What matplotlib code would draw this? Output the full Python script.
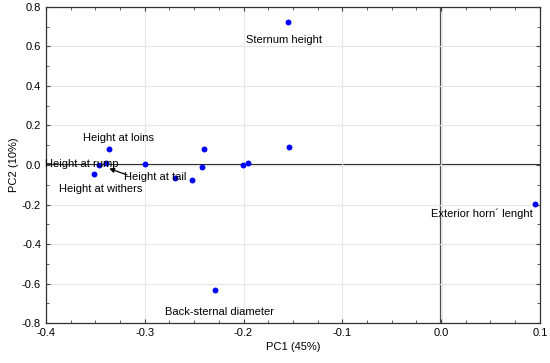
import matplotlib
matplotlib.use('Agg')
import matplotlib.pyplot as plt
from matplotlib.ticker import MultipleLocator

plt.rcParams['font.family'] = ['Liberation Sans', 'DejaVu Sans']

# PCA loadings
pc1 = [-0.155, -0.154, 0.095, -0.229, -0.336, -0.351, -0.346, -0.339,
       -0.300, -0.269, -0.252, -0.242, -0.240, -0.201, -0.195]
pc2 = [0.722, 0.093, -0.199, -0.634, 0.079, -0.047, 0.0, 0.009,
       0.005, -0.064, -0.078, -0.009, 0.081, 0.0, 0.009]

# label text, anchor point (x, y), horizontal alignment
labels = ['Sternum height', 'Exterior horn\u00b4 lenght', 'Back-sternal diameter',
          'Height at loins', 'Height at rump', 'Height at withers']
label_x = [-0.159, 0.093, -0.224, -0.327, -0.401, -0.345]
label_y = [0.635, -0.245, -0.743, 0.137, 0.005, -0.123]
label_ha = ['center', 'right', 'center', 'center', 'left', 'center']

fig = plt.figure(figsize=(5.5, 3.63), dpi=100)
ax = fig.add_axes([0.0836, 0.110, 0.898, 0.871])

ax.grid(True, color='#e6e6e6', linewidth=0.8, zorder=0)
ax.axhline(0, color='#222222', linewidth=1.5, zorder=1)
ax.axvline(0, color='#444444', linewidth=1.6, zorder=1)

ax.scatter(pc1, pc2, s=18, color='#0000ff', zorder=3, linewidths=0)

for txt, lx, ly, ha in zip(labels, label_x, label_y, label_ha):
    ax.text(lx, ly, txt, ha=ha, va='center', fontsize=8, zorder=4)

ax.text(-0.321, -0.059, 'Height at tail', fontsize=8, va='center', ha='left',
        zorder=4)
ax.annotate('', xy=(-0.336, -0.018), xytext=(-0.318, -0.050),
            arrowprops=dict(arrowstyle='-|>', color='black', lw=0.9,
                            mutation_scale=7, shrinkA=0, shrinkB=0),
            zorder=4)

ax.set_xlim(-0.4, 0.1)
ax.set_ylim(-0.8, 0.8)
ax.xaxis.set_major_locator(MultipleLocator(0.1))
ax.xaxis.set_minor_locator(MultipleLocator(0.025))
ax.yaxis.set_major_locator(MultipleLocator(0.2))
ax.yaxis.set_minor_locator(MultipleLocator(0.1))
ax.xaxis.set_major_formatter(plt.FuncFormatter(lambda v, p: '%.1f' % v))
ax.yaxis.set_major_formatter(plt.FuncFormatter(lambda v, p: '%.1f' % v))

ax.tick_params(which='both', direction='in', top=True, right=True,
               color='#444444', labelsize=8)
ax.tick_params(which='major', length=3)
ax.tick_params(which='minor', length=2)
for sp in ax.spines.values():
    sp.set_color('#333333')
    sp.set_linewidth(0.9)

ax.set_xlabel('PC1 (45%)', fontsize=8, labelpad=3)
ax.set_ylabel('PC2 (10%)', fontsize=8, labelpad=2)

fig.savefig('out.png', dpi=100)
